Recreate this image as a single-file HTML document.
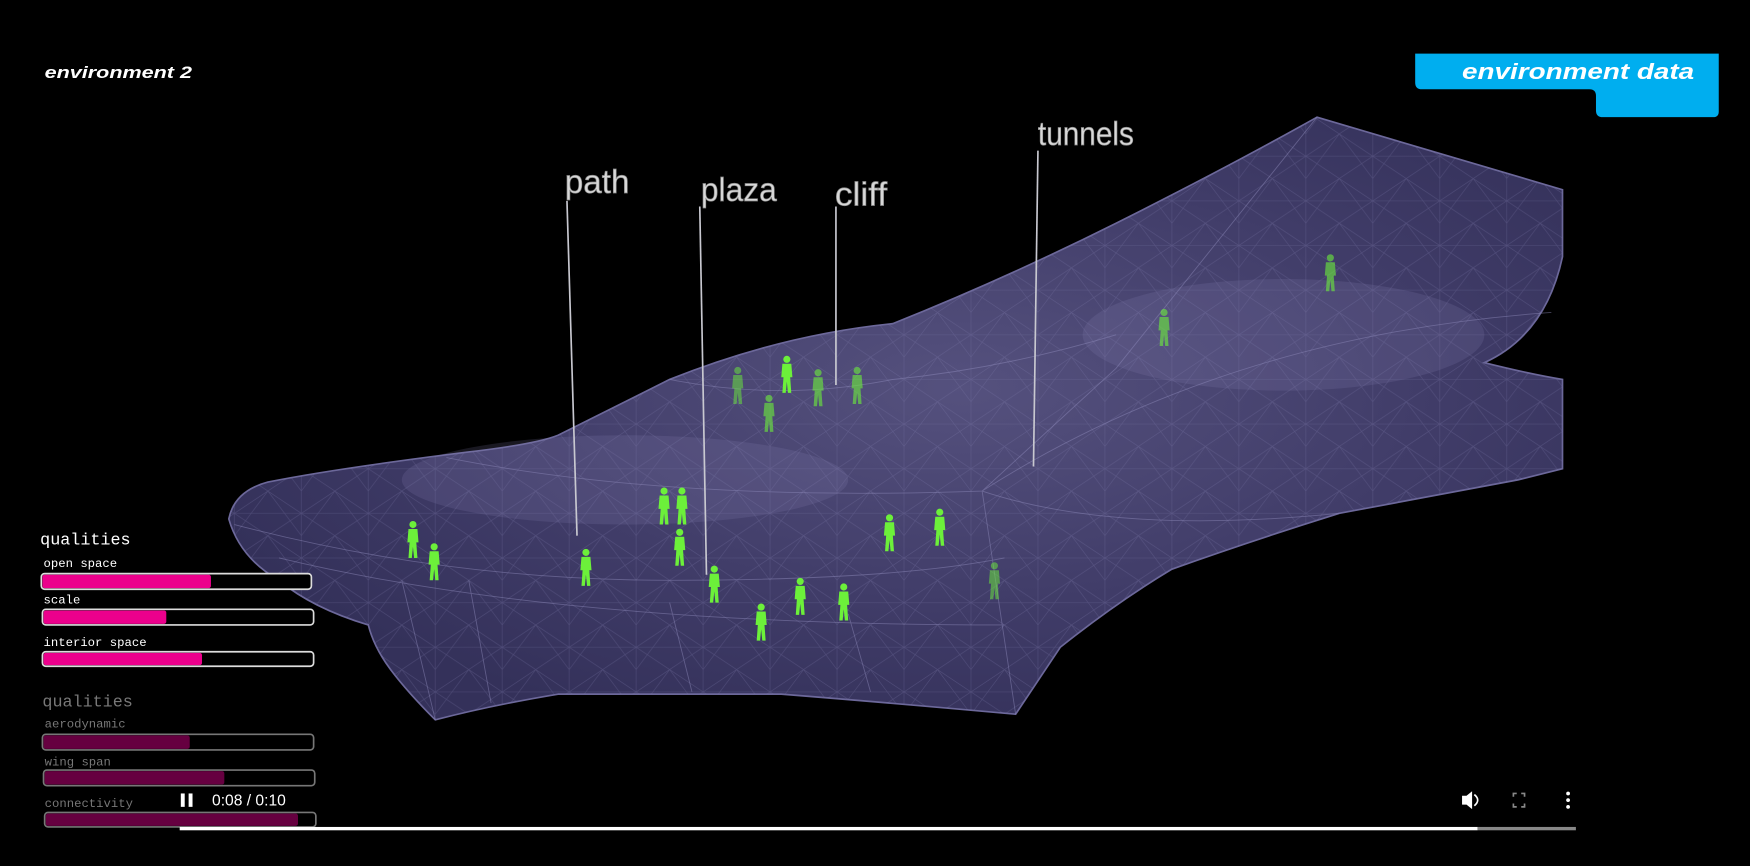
<!DOCTYPE html>
<html><head><meta charset="utf-8"><style>
html,body{margin:0;padding:0;background:#000;width:1750px;height:866px;overflow:hidden}
svg{display:block}
</style></head><body>
<svg width="1750" height="866" viewBox="0 0 1568 776" preserveAspectRatio="none" xmlns="http://www.w3.org/2000/svg">
<defs>
<radialGradient id="g1" cx="0.55" cy="0.45" r="0.6">
<stop offset="0" stop-color="#55517e"/><stop offset="0.6" stop-color="#403c68"/><stop offset="1" stop-color="#34315a"/>
</radialGradient>
<pattern id="mesh" width="60" height="40" patternUnits="userSpaceOnUse">
<path d="M0 0L60 40M60 0L0 40M30 0L30 40M0 20L60 20M0 0L30 40M60 0L30 40" stroke="#7f7bab" stroke-width="0.5" opacity="0.35" fill="none"/>
</pattern>
<g id="p"><circle cx="0" cy="-18" r="3.2"/><path d="M-4 -14 L4 -14 L5 -2 L3 -2 L4 12 L1 12 L0 2 L-1 12 L-4 12 L-3 -2 L-5 -2 Z"/></g>
</defs>
<rect width="1568" height="776" fill="#000"/>
<path d="M205 465 Q210 440 240 432 Q300 420 420 405 Q480 398 500 390 Q560 360 600 340 Q700 300 800 290 Q900 250 1000 200 Q1100 150 1180 105 Q1300 140 1400 170 L1400 230 Q1385 300 1330 325 Q1370 335 1400 340 L1400 420 L1360 430 Q1280 445 1200 460 Q1120 485 1050 510 Q1000 540 950 580 Q930 610 910 640 Q800 630 700 622 L500 622 Q440 632 390 645 Q365 620 350 600 Q335 580 330 560 Q280 545 250 520 Q215 500 205 465 Z" fill="url(#g1)" stroke="#6c689a" stroke-width="1.5"/>
<path d="M205 465 Q210 440 240 432 Q300 420 420 405 Q480 398 500 390 Q560 360 600 340 Q700 300 800 290 Q900 250 1000 200 Q1100 150 1180 105 Q1300 140 1400 170 L1400 230 Q1385 300 1330 325 Q1370 335 1400 340 L1400 420 L1360 430 Q1280 445 1200 460 Q1120 485 1050 510 Q1000 540 950 580 Q930 610 910 640 Q800 630 700 622 L500 622 Q440 632 390 645 Q365 620 350 600 Q335 580 330 560 Q280 545 250 520 Q215 500 205 465 Z" fill="url(#mesh)"/>
<g stroke="#8c88b8" stroke-width="0.8" fill="none" opacity="0.5">
<path d="M210 470 Q400 520 600 520 T900 500"/>
<path d="M250 500 Q500 560 900 560"/>
<path d="M400 410 Q600 450 880 440 L1000 330 L1180 105"/>
<path d="M880 440 Q1100 300 1390 280"/>
<path d="M600 340 Q700 360 800 340 Q900 330 1000 300"/>
<path d="M880 440 L910 640 M880 440 Q1000 480 1200 460"/>
<path d="M360 520 L390 645 M420 520 L440 630 M600 540 L620 620 M760 550 L780 620"/>
</g>
<ellipse cx="560" cy="430" rx="200" ry="40" fill="#8884b8" opacity="0.18"/>
<ellipse cx="1150" cy="300" rx="180" ry="50" fill="#8884b8" opacity="0.18"/>
<g stroke="#c8c8d0" stroke-width="1.5">
<line x1="508" y1="180" x2="517" y2="480"/>
<line x1="627" y1="185" x2="633" y2="515"/>
<line x1="749" y1="185" x2="749" y2="345"/>
<line x1="930" y1="135" x2="926" y2="418"/>
</g>
<g font-family="Liberation Sans, sans-serif" font-size="30" fill="#d8d8d8" stroke="#888" stroke-width="0.6" lengthAdjust="spacingAndGlyphs">
<text x="506" y="173" textLength="58" lengthAdjust="spacingAndGlyphs">path</text>
<text x="628" y="180" textLength="68" lengthAdjust="spacingAndGlyphs">plaza</text>
<text x="748" y="184" textLength="47" lengthAdjust="spacingAndGlyphs">cliff</text>
<text x="930" y="130" textLength="86" lengthAdjust="spacingAndGlyphs">tunnels</text>
</g>
<g fill="#6cf03a">
<use href="#p" x="370" y="488"/><use href="#p" x="389" y="508"/><use href="#p" x="525" y="513"/>
<use href="#p" x="595" y="458"/><use href="#p" x="611" y="458"/><use href="#p" x="609" y="495"/>
<use href="#p" x="640" y="528"/><use href="#p" x="682" y="562"/><use href="#p" x="717" y="539"/>
<use href="#p" x="756" y="544"/><use href="#p" x="842" y="477"/><use href="#p" x="797" y="482"/>
<use href="#p" x="705" y="340"/><use href="#p" x="689" y="375" opacity="0.6"/><use href="#p" x="733" y="352" opacity="0.6"/>
<use href="#p" x="768" y="350" opacity="0.6"/><use href="#p" x="661" y="350" opacity="0.5"/>
<use href="#p" x="1043" y="298" opacity="0.6"/><use href="#p" x="1192" y="249" opacity="0.6"/><use href="#p" x="891" y="525" opacity="0.5"/>
</g>
<text x="40" y="70" font-family="Liberation Sans, sans-serif" font-size="15" font-weight="bold" font-style="italic" fill="#fff" textLength="132" lengthAdjust="spacingAndGlyphs">environment 2</text>
<path d="M1272 48 L1540 48 L1540 100 Q1540 105 1535 105 L1436 105 Q1430 105 1430 99 L1430 86 Q1430 80 1424 80 L1274 80 Q1268 80 1268 74 L1268 48 Z" fill="#00aeef"/>
<text x="1310" y="71" font-family="Liberation Sans, sans-serif" font-size="20" font-weight="bold" font-style="italic" fill="#fff" textLength="208" lengthAdjust="spacingAndGlyphs">environment data</text>
<g font-family="Liberation Mono, monospace" fill="#fff">
<text x="36" y="488" font-size="15">qualities</text>
<text x="39" y="508" font-size="11">open space</text>
<text x="39" y="541" font-size="11">scale</text>
<text x="39" y="579" font-size="11">interior space</text>
<g fill="#777"><text x="38" y="633" font-size="15">qualities</text>
<text x="40" y="652" font-size="11">aerodynamic</text>
<text x="40" y="686" font-size="11">wing span</text>
<text x="40" y="723" font-size="11">connectivity</text></g>
</g>
<g stroke-width="1.5">
<rect x="37" y="514" width="242" height="14" rx="3" fill="#000" stroke="#ddd"/><rect x="38" y="515" width="151" height="12" rx="2" fill="#ec008c"/>
<rect x="38" y="546" width="243" height="14" rx="3" fill="#000" stroke="#ddd"/><rect x="39" y="547" width="110" height="12" rx="2" fill="#ec008c"/>
<rect x="38" y="584" width="243" height="13" rx="3" fill="#000" stroke="#ddd"/><rect x="39" y="585" width="142" height="11" rx="2" fill="#ec008c"/>
<rect x="38" y="658" width="243" height="14" rx="3" fill="#000" stroke="#777"/><rect x="39" y="659" width="131" height="12" rx="2" fill="#660040"/>
<rect x="39" y="690" width="243" height="14" rx="3" fill="#000" stroke="#777"/><rect x="40" y="691" width="161" height="12" rx="2" fill="#660040"/>
<rect x="40" y="728" width="243" height="13" rx="3" fill="#000" stroke="#777"/><rect x="41" y="729" width="226" height="11" rx="2" fill="#660040"/>
</g>
<rect x="162" y="711" width="3.5" height="12" fill="#fff"/><rect x="169" y="711" width="3.5" height="12" fill="#fff"/>
<text x="190" y="722" font-family="Liberation Sans, sans-serif" font-size="14" fill="#fff">0:08 / 0:10</text>
<rect x="161" y="741" width="1163" height="3" fill="#fff"/><rect x="1324" y="741" width="88" height="3" fill="#888"/>
<path d="M1310 713 L1314 713 L1319 709 L1319 725 L1314 721 L1310 721 Z" fill="#fff"/>
<path d="M1321 712 Q1327 717 1321 722" stroke="#fff" stroke-width="1.5" fill="none"/>
<path d="M1356 714 V711 H1359 M1363 711 H1366 V714 M1366 720 V723 H1363 M1359 723 H1356 V720" stroke="#888" stroke-width="1.5" fill="none"/>
<circle cx="1405" cy="711" r="1.7" fill="#fff"/><circle cx="1405" cy="717" r="1.7" fill="#fff"/><circle cx="1405" cy="723" r="1.7" fill="#fff"/>
</svg>
</body></html>
